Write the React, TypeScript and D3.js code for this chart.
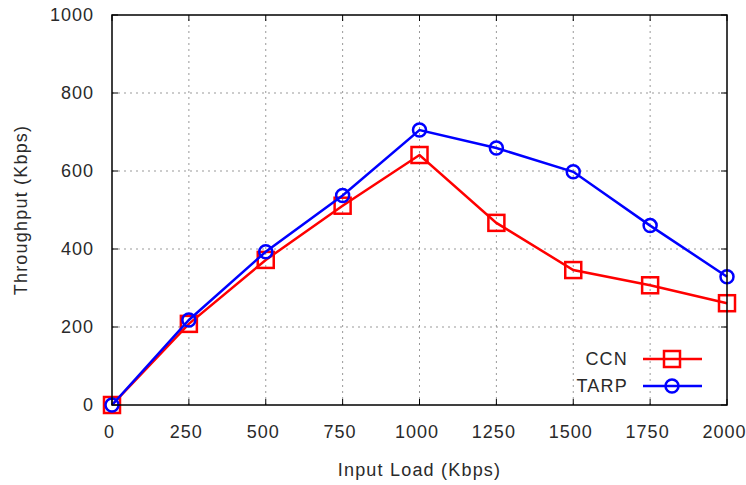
import React from 'react';
import * as d3 from 'd3';

// values
const loads = [0, 250, 500, 750, 1000, 1250, 1500, 1750, 2000];
const ccnValues = [0, 208, 372, 511, 641, 467, 346, 307, 261];
const tarpValues = [0, 218, 393, 537, 705, 659, 598, 460, 329];
const xTicks = [0, 250, 500, 750, 1000, 1250, 1500, 1750, 2000];
const yTicks = [0, 200, 400, 600, 800, 1000];
const seriesNames = ['CCN', 'TARP'];

const width = 746;
const height = 485;
const margin = { top: 15, right: 19, bottom: 80, left: 112 };
const font = '"Liberation Sans", Arial, sans-serif';

const App = () => {
  const x = d3.scaleLinear().domain([0, 2000]).range([margin.left, width - margin.right]);
  const y = d3.scaleLinear().domain([0, 1000]).range([height - margin.bottom, margin.top]);

  const line = d3.line<number>()
    .x((d, i) => x(loads[i]))
    .y(d => y(d));

  const x0 = x.range()[0];
  const x1 = x.range()[1];
  const y0 = y.range()[0];
  const y1 = y.range()[1];
  const tick = 6;
  const textStyle = { fontFamily: font, fontSize: 18, letterSpacing: 1.2, fill: '#2a2a2a' };
  const tickStyle = { ...textStyle, letterSpacing: 1 };

  const square = (cx, cy, key) => (
    <rect key={key} x={cx - 8} y={cy - 8} width={16} height={16} fill="none" stroke="#ff0000" strokeWidth={2.5} />
  );
  const circle = (cx, cy, key) => (
    <circle key={key} cx={cx} cy={cy} r={6.5} fill="none" stroke="#0000ff" strokeWidth={2.5} />
  );

  return (
    <svg width={width} height={height} style={{ position: 'absolute', left: 0, top: 0, background: '#fff' }}>
      {/* grid */}
      {xTicks.slice(1, -1).map(t => (
        <line key={'gx' + t} x1={x(t)} x2={x(t)} y1={y0} y2={y1} stroke="#999" strokeDasharray="2,4" strokeWidth={1} />
      ))}
      {yTicks.slice(1, -1).map(t => (
        <line key={'gy' + t} x1={x0} x2={x1} y1={y(t)} y2={y(t)} stroke="#999" strokeDasharray="2,4" strokeWidth={1} />
      ))}

      {/* ticks, mirrored on all sides */}
      {xTicks.map(t => (
        <g key={'tx' + t} stroke="#000" strokeWidth={1}>
          <line x1={x(t)} x2={x(t)} y1={y0} y2={y0 - tick} />
          <line x1={x(t)} x2={x(t)} y1={y1} y2={y1 + tick} />
        </g>
      ))}
      {yTicks.map(t => (
        <g key={'ty' + t} stroke="#000" strokeWidth={1}>
          <line x1={x0} x2={x0 + tick} y1={y(t)} y2={y(t)} />
          <line x1={x1} x2={x1 - tick} y1={y(t)} y2={y(t)} />
        </g>
      ))}

      {/* series */}
      <path d={line(ccnValues) || ''} fill="none" stroke="#ff0000" strokeWidth={2.5} />
      {ccnValues.map((v, i) => square(x(loads[i]), y(v), 'c' + i))}
      <path d={line(tarpValues) || ''} fill="none" stroke="#0000ff" strokeWidth={2.5} />
      {tarpValues.map((v, i) => circle(x(loads[i]), y(v), 't' + i))}

      {/* frame */}
      <rect x={x0} y={y1} width={x1 - x0} height={y0 - y1} fill="none" stroke="#000" strokeWidth={1.5} />

      {/* tick labels */}
      {xTicks.map(t => (
        <text key={'lx' + t} x={x(t) - 2.5} y={y0 + 33} textAnchor="middle" style={tickStyle}>{t}</text>
      ))}
      {yTicks.map(t => (
        <text key={'ly' + t} x={x0 - 18} y={y(t) + 6} textAnchor="end" style={tickStyle}>{t}</text>
      ))}

      {/* axis titles */}
      <text x={(x0 + x1) / 2} y={476} textAnchor="middle" style={textStyle}>Input Load (Kbps)</text>
      <text transform={`translate(27,${(y0 + y1) / 2}) rotate(-90)`} textAnchor="middle" style={textStyle}>Throughput (Kbps)</text>

      {/* legend */}
      {seriesNames.map((name, i) => {
        const ly = 359 + i * 27;
        return (
          <g key={name}>
            <text x={628} y={ly + 6} textAnchor="end" style={textStyle}>{name}</text>
            <line x1={643} x2={702} y1={ly} y2={ly} stroke={i === 0 ? '#ff0000' : '#0000ff'} strokeWidth={2.5} />
            {i === 0 ? square(672, ly, 'ls') : circle(672, ly, 'lc')}
          </g>
        );
      })}
    </svg>
  );
};

export default App;
